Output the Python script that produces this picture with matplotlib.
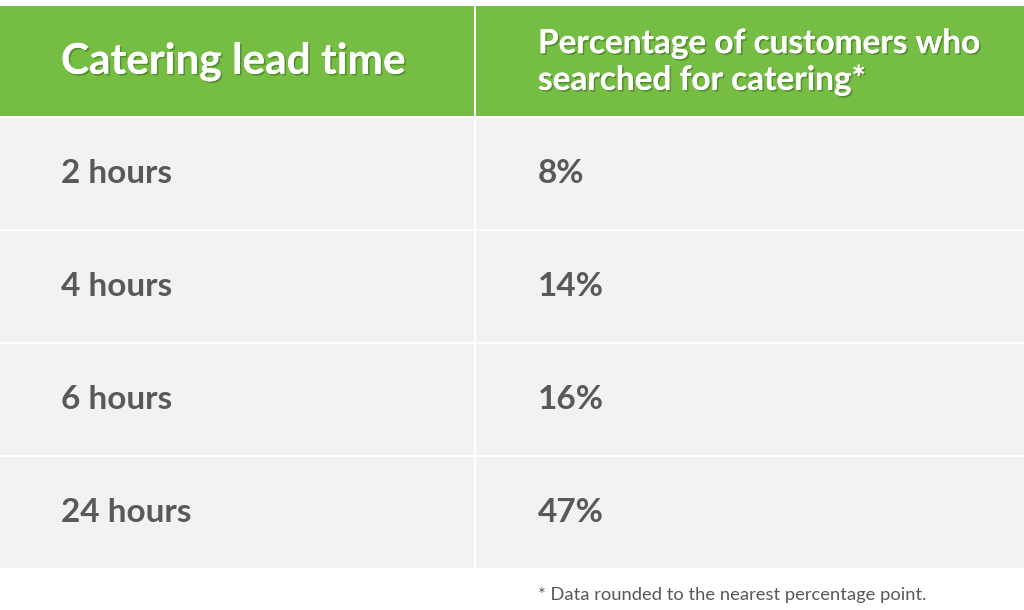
import matplotlib
matplotlib.use("Agg")
import matplotlib.pyplot as plt
from matplotlib.patches import Rectangle
import matplotlib.patheffects as pe

headers = ["Catering lead time", "Percentage of customers who\nsearched for catering*"]
lead_times = ["2 hours", "4 hours", "6 hours", "24 hours"]
percentages = [8, 14, 16, 47]
footnote = "* Data rounded to the nearest percentage point."

GREEN = "#76BE43"
CELL = "#F1F2F4"
TEXT = "#58595B"

W, H = 1024, 610
fig = plt.figure(figsize=(W / 100, H / 100), dpi=100)
ax = fig.add_axes([0, 0, 1, 1])
ax.set_xlim(0, W)
ax.set_ylim(H, 0)
ax.axis("off")

col_x = [0, 476]
col_w = [474, 548]
header_top, header_h = 6, 110
row_top0, row_h, gap = 118, 111, 2

shadow = [pe.withSimplePatchShadow(offset=(1.2, -1.2), shadow_rgbFace="#3f6e22", alpha=0.6), pe.Normal()]

# header
for j in range(2):
    ax.add_patch(Rectangle((col_x[j], header_top), col_w[j], header_h, facecolor=GREEN, edgecolor="none"))
ax.text(61, header_top + header_h / 2 + 1, headers[0], fontfamily="Lato", fontweight="bold",
        fontsize=30.5, color="white", va="center", ha="left", path_effects=shadow)
ax.text(538, header_top + header_h / 2 + 1, headers[1], fontfamily="Lato", fontweight="bold",
        fontsize=24, color="white", va="center", ha="left", linespacing=1.27, path_effects=shadow)

# rows
for i, (lt, p) in enumerate(zip(lead_times, percentages)):
    y = row_top0 + i * (row_h + gap)
    for j in range(2):
        ax.add_patch(Rectangle((col_x[j], y), col_w[j], row_h, facecolor=CELL, edgecolor="none"))
    ax.text(61, y + row_h / 2, lt, fontfamily="Lato", fontweight="bold", fontsize=24,
            color=TEXT, va="center", ha="left")
    ax.text(538, y + row_h / 2, f"{p}%", fontfamily="Lato", fontweight="bold", fontsize=24,
            color=TEXT, va="center", ha="left")

ax.text(538, 595, footnote, fontfamily="Lato", fontsize=13.2, color=TEXT, va="center", ha="left")

fig.savefig("out.png", dpi=100, facecolor="white")
